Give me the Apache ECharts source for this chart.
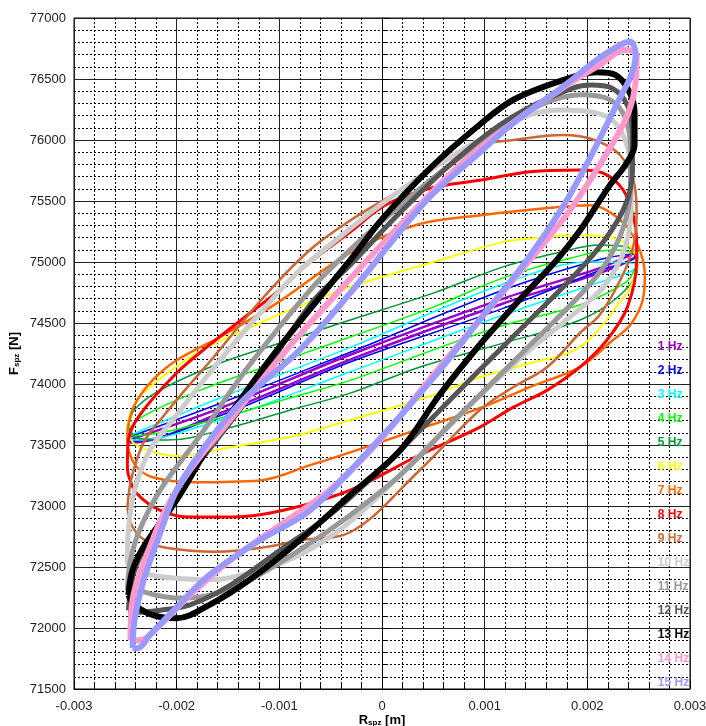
<!DOCTYPE html>
<html>
<head>
<meta charset="utf-8">
<script src="https://cdn.jsdelivr.net/npm/echarts@6/dist/echarts.min.js"></script>
<style>
html, body { margin: 0; padding: 0; background: #fff; }
#chart { width: 706px; height: 726px; }
</style>
</head>
<body>
<div id="chart"></div>
<script>
// loops, [R_spz (m), F_spz (N)]
var hz1 = [[-0.00247,73540],[-0.00158,73800],[-0.00031,74240],[0.00118,74700],[0.00212,74950],[0.00248,75080],
    [0.00245,75030],[0.00212,74910],[0.00118,74660],[-0.00031,74200],[-0.00158,73760],[-0.00245,73520],[-0.00247,73540]];
var hz2 = [[-0.00248,73560],[-0.00158,73840],[-0.00031,74260],[0.00118,74770],[0.00212,75020],[0.00247,75070],
    [0.00246,75030],[0.00212,74930],[0.00118,74620],[-0.00031,74180],[-0.00158,73740],[-0.00245,73530],[-0.00248,73560]];
var hz3 = [[-0.00248,73570],[-0.00158,73885],[-0.00031,74300],[0.00118,74820],[0.00203,75000],[0.00249,74975],
    [0.00242,74920],[0.00203,74810],[0.00118,74565],[-0.00031,74100],[-0.00158,73705],[-0.00241,73540],[-0.00248,73570]];
var hz4 = [[-0.00248,73610],[-0.00236,73720],[-0.00177,73950],[-0.0009,74210],[-0.00031,74385],[0.0005,74630],[0.00118,74870],
    [0.00183,75030],[0.00227,75100],[0.00249,75040],[0.00247,74950],[0.00237,74830],[0.00193,74650],[0.00118,74480],
    [0.0005,74280],[-0.00031,74030],[-0.0009,73885],[-0.00158,73720],[-0.00216,73600],[-0.00243,73575],[-0.00248,73610]];
var hz5 = [[-0.00247,73640],[-0.00241,73790],[-0.00216,73950],[-0.00158,74170],[-0.0009,74360],[-0.00031,74525],[0.0005,74745],
    [0.00118,74960],[0.00173,75080],[0.00212,75140],[0.00237,75125],[0.00249,75060],[0.00249,74950],[0.00232,74730],
    [0.00193,74525],[0.00118,74335],[0.00037,74140],[-0.00031,73925],[-0.0009,73785],[-0.00145,73650],[-0.00209,73540],
    [-0.00238,73555],[-0.00247,73640]];
var hz6 = [[-0.00248,73665],[-0.00245,73760],[-0.00233,73925],[-0.0018,74255],[-0.00119,74500],[-0.0009,74605],[-0.00031,74795],
    [0.0005,75000],[0.00118,75165],[0.00147,75195],[0.00193,75220],[0.00227,75195],[0.00243,75115],[0.00249,75000],
    [0.00247,74895],[0.00237,74730],[0.00193,74305],[0.00144,74170],[0.00095,74055],[0.0005,73910],[-0.00031,73705],
    [-0.0009,73565],[-0.00145,73485],[-0.002,73410],[-0.00236,73485],[-0.00247,73580],[-0.00248,73665]];
var hz7 = [[-0.00248,73540],[-0.00247,73665],[-0.00241,73830],[-0.00223,74035],[-0.002,74195],[-0.00158,74385],[-0.00102,74665],
    [-0.00031,75075],[0.00034,75305],[0.00098,75385],[0.00164,75445],[0.00203,75465],[0.00232,75345],[0.00249,75140],
    [0.00256,74895],[0.00254,74690],[0.00242,74485],[0.00225,74360],[0.00193,74140],[0.00144,73975],[0.00098,73810],
    [0.00034,73625],[-0.00031,73440],[-0.0007,73335],[-0.00119,73210],[-0.00184,73195],[-0.00223,73235],[-0.00239,73320],
    [-0.00247,73460],[-0.00248,73540]];
var hz8 = [[-0.00248,73335],[-0.00247,73540],[-0.00236,73745],[-0.002,74090],[-0.00168,74320],[-0.00135,74540],[-0.00102,74755],
    [-0.0007,75000],[-0.00031,75245],[0.00003,75465],[0.00047,75605],[0.00095,75670],[0.00144,75740],[0.00193,75755],
    [0.00215,75730],[0.00235,75590],[0.00245,75370],[0.00248,75180],[0.00248,75015],[0.00239,74630],[0.00219,74360],
    [0.00193,74140],[0.00161,73950],[0.00128,73810],[0.00095,73645],[0.00037,73420],[-0.00031,73130],[-0.00096,72965],
    [-0.00145,72910],[-0.00187,72910],[-0.00216,72965],[-0.00239,73105],[-0.00247,73255],[-0.00248,73335]];
var hz9 = [[-0.00248,72990],[-0.00245,73190],[-0.00239,73375],[-0.00231,73540],[-0.00216,73705],[-0.00192,73950],[-0.00168,74180],
    [-0.00116,74705],[-0.0007,75100],[-0.00031,75340],[0.00018,75590],[0.00056,75795],[0.00095,75960],[0.00128,76000],
    [0.00176,76040],[0.00207,76000],[0.00232,75875],[0.00246,75630],[0.00248,75385],[0.00244,75100],[0.00232,74850],
    [0.00212,74565],[0.00193,74420],[0.00161,74140],[0.00128,73975],[0.00095,73785],[0.00037,73295],[-0.00031,72785],
    [-0.0008,72720],[-0.00112,72665],[-0.00161,72625],[-0.00209,72655],[-0.00231,72720],[-0.00243,72830],[-0.00248,72990]];
var hz10 = [[-0.00248,72555],[-0.00247,72805],[-0.00241,73130],[-0.00226,73460],[-0.002,73745],[-0.00168,74090],[-0.00119,74580],
    [-0.00083,74910],[-0.00041,75205],[-0.00002,75465],[0.00047,75755],[0.00095,76000],[0.00144,76205],[0.00176,76245],
    [0.00209,76220],[0.00227,76140],[0.00239,75945],[0.00243,75670],[0.00242,75345],[0.00234,75055],[0.00217,74810],
    [0.00203,74690],[0.00176,74500],[0.00144,74280],[0.00112,74035],[0.00076,73745],[0.00037,73420],[-0.00002,73090],
    [-0.00041,72805],[-0.0008,72600],[-0.00119,72475],[-0.00168,72395],[-0.00216,72420],[-0.00236,72460],[-0.00247,72515],
    [-0.00248,72555]];
var hz11 = [[-0.00248,72310],[-0.00245,72555],[-0.00236,72805],[-0.00216,73130],[-0.00177,73580],[-0.00129,74155],[-0.0007,74770],
    [-0.00031,75100],[0.00018,75465],[0.00066,75795],[0.00115,76080],[0.00154,76285],[0.00193,76370],[0.00222,76330],
    [0.00237,76180],[0.00242,75920],[0.00242,75590],[0.00234,75260],[0.00217,74975],[0.00193,74730],[0.00154,74400],
    [0.00115,74075],[0.00066,73665],[0.00018,73255],[-0.00031,72925],[-0.0008,72640],[-0.00129,72395],[-0.00168,72270],
    [-0.00197,72245],[-0.00221,72270],[-0.0024,72310],[-0.00248,72310]];
var hz12 = [[-0.00247,72145],[-0.00241,72475],[-0.00221,72805],[-0.00187,73255],[-0.00135,73830],[-0.0007,74650],[-0.00031,74975],
    [0.00018,75410],[0.00066,75795],[0.00115,76125],[0.00164,76350],[0.00203,76450],[0.00224,76425],[0.00239,76285],
    [0.00244,76040],[0.00244,75755],[0.00237,75465],[0.00217,75180],[0.00188,74895],[0.00144,74525],[0.00095,74115],
    [0.00047,73705],[-0.00002,73295],[-0.00051,72925],[-0.00099,72640],[-0.00148,72350],[-0.00187,72190],[-0.00216,72145],
    [-0.00236,72130],[-0.00247,72145]];
var hz13 = [[-0.00247,72270],[-0.00243,72475],[-0.00233,72655],[-0.002,73050],[-0.00168,73500],[-0.00138,73870],[-0.00102,74280],
    [-0.00031,75015],[0.00001,75360],[0.00047,75770],[0.00095,76125],[0.00128,76330],[0.00176,76490],[0.00209,76555],
    [0.00227,76535],[0.0024,76410],[0.00246,76230],[0.00246,75960],[0.00237,75795],[0.00222,75630],[0.00193,75260],
    [0.0017,75015],[0.00134,74690],[0.00095,74320],[0.00056,73910],[0.00018,73460],[-0.00031,73090],[-0.0008,72720],
    [-0.00129,72395],[-0.00168,72190],[-0.002,72080],[-0.00223,72105],[-0.00241,72190],[-0.00247,72270]];
var hz14 = [[-0.00245,71900],[-0.00243,72230],[-0.00231,72555],[-0.00211,72965],[-0.00187,73295],[-0.00148,73705],[-0.00093,74280],
    [-0.00041,74770],[0.00018,75305],[0.00076,75795],[0.00125,76125],[0.00173,76410],[0.00212,76615],[0.00237,76740],
    [0.00248,76695],[0.00246,76410],[0.00237,76165],[0.00212,75795],[0.00183,75425],[0.00144,75015],[0.00095,74525],
    [0.0005,74075],[-0.00002,73540],[-0.00051,73130],[-0.00099,72845],[-0.00148,72555],[-0.00187,72270],[-0.00216,72025],
    [-0.00236,71900],[-0.00245,71900]];
var hz15 = [[-0.00243,71835],[-0.00241,72065],[-0.00233,72370],[-0.00216,72780],[-0.002,73130],[-0.00168,73540],[-0.00135,73870],
    [-0.0008,74280],[-0.00031,74745],[0.00044,75510],[0.00095,75895],[0.00128,76140],[0.00176,76435],[0.00209,76655],
    [0.00232,76780],[0.00242,76805],[0.00247,76695],[0.00243,76535],[0.00232,76350],[0.00203,75860],[0.00176,75450],
    [0.00141,75015],[0.00095,74525],[0.0005,74050],[-0.00012,73460],[-0.0007,72965],[-0.00119,72720],[-0.00168,72435],
    [-0.002,72170],[-0.00226,71945],[-0.00238,71835],[-0.00243,71835]];

var loops = [hz1, hz2, hz3, hz4, hz5, hz6, hz7, hz8, hz9, hz10, hz11, hz12, hz13, hz14, hz15];
var names = ['1 Hz', '2 Hz', '3 Hz', '4 Hz', '5 Hz', '6 Hz', '7 Hz', '8 Hz', '9 Hz', '10 Hz', '11 Hz', '12 Hz', '13 Hz', '14 Hz', '15 Hz'];
var colors = ['#9900cc', '#0000ff', '#00ffff', '#00ff00', '#009933', '#ffff00', '#ff6600', '#ff0000', '#cc6633',
    '#cccccc', '#999999', '#555555', '#000000', '#ff99cc', '#9999ff'];
var widths = [2.5, 1.5, 1.5, 1.5, 1.5, 2, 2.5, 3, 2.5, 5, 5, 5, 6, 6, 6];

var font = 'Liberation Sans';

var series = [];
for (var i = 0; i < loops.length; i++) {
    series.push({
        name: names[i],
        type: 'line',
        data: loops[i],
        showSymbol: false,
        smooth: 0.35,
        color: colors[i],
        lineStyle: { color: colors[i], width: widths[i] }
    });
}

var legendData = names.map(function (n, i) {
    return { name: n, textStyle: { color: colors[i] } };
});

var chart = echarts.init(document.getElementById('chart'), null, { renderer: 'canvas' });

var option = {
    animation: false,
    backgroundColor: '#fff',
    grid: {
        left: 74, right: 16, top: 18, bottom: 37,
        containLabel: false, outerBoundsMode: 'none',
        show: true, borderColor: '#000', borderWidth: 1
    },
    legend: {
        orient: 'vertical',
        left: 647,
        top: 341,
        padding: 0,
        itemGap: 12,
        itemWidth: 0,
        itemHeight: 12,
        selectedMode: false,
        lineStyle: { opacity: 0 },
        itemStyle: { opacity: 0 },
        textStyle: { fontFamily: font, fontSize: 12, fontWeight: 'bold' },
        data: legendData
    },
    xAxis: {
        type: 'value',
        min: -0.003,
        max: 0.003,
        interval: 0.001,
        name: '{a|R}{b|spz}{a| [m]}',
        nameLocation: 'middle',
        nameGap: 24,
        nameMoveOverlap: false,
        nameTextStyle: {
            rich: {
                a: { fontFamily: font, fontSize: 13, fontWeight: 'bold', color: '#000' },
                b: { fontFamily: font, fontSize: 8, fontWeight: 'bold', color: '#000', padding: [6, 0, 0, 0] }
            }
        },
        axisLine: { lineStyle: { color: '#000' } },
        axisTick: { inside: true, length: 8, lineStyle: { color: '#000' } },
        minorTick: { show: true, splitNumber: 5, length: 6, lineStyle: { color: '#000' } },
        axisLabel: {
            fontFamily: font, fontSize: 13, color: '#222', margin: 11,
            formatter: function (v) { return v === 0 ? '0' : v.toFixed(3); }
        },
        splitLine: { show: true, lineStyle: { color: '#222', width: 1 } },
        minorSplitLine: { show: true, lineStyle: { color: '#000', width: 1, type: [2, 2] } }
    },
    yAxis: {
        type: 'value',
        min: 71500,
        max: 77000,
        interval: 500,
        name: '{a|F}{b|spz}{a| [N]}',
        nameLocation: 'middle',
        nameGap: 53,
        nameMoveOverlap: false,
        nameRotate: 90,
        nameTextStyle: {
            rich: {
                a: { fontFamily: font, fontSize: 13, fontWeight: 'bold', color: '#000' },
                b: { fontFamily: font, fontSize: 8, fontWeight: 'bold', color: '#000', padding: [6, 0, 0, 0] }
            }
        },
        axisLine: { lineStyle: { color: '#000' } },
        axisTick: { inside: true, length: 8, lineStyle: { color: '#000' } },
        minorTick: { show: true, splitNumber: 5, length: 6, lineStyle: { color: '#000' } },
        axisLabel: {
            fontFamily: font, fontSize: 13, color: '#222', margin: 8,
            formatter: function (v) { return String(v); }
        },
        splitLine: { show: true, lineStyle: { color: '#222', width: 1 } },
        minorSplitLine: { show: true, lineStyle: { color: '#000', width: 1, type: [2, 2] } }
    },
    series: series
};

chart.setOption(option);
</script>
</body>
</html>
